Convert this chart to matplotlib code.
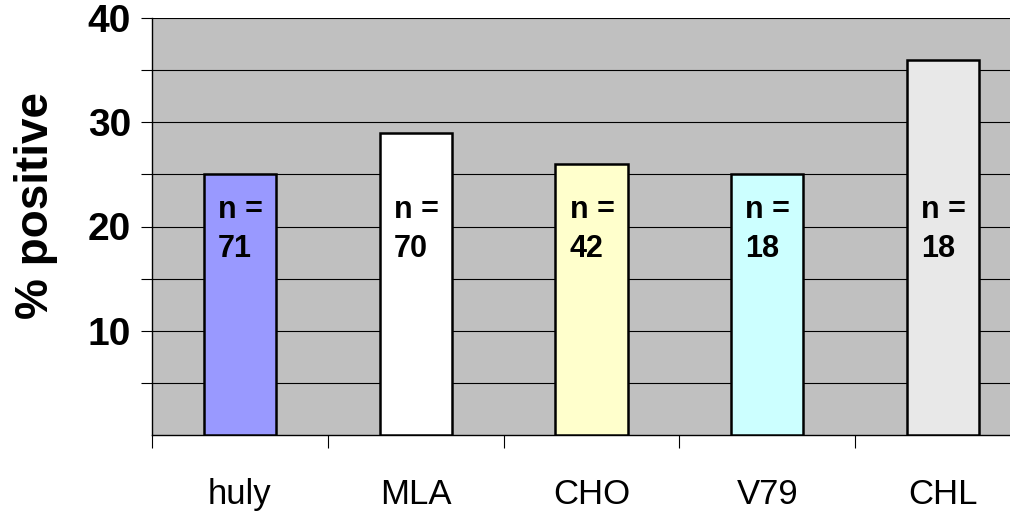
import matplotlib
matplotlib.use("Agg")
import matplotlib.pyplot as plt
import numpy as np

plt.rcParams['font.family'] = ['Liberation Sans', 'DejaVu Sans']

# data
cell_lines = ["huly", "MLA", "CHO", "V79", "CHL"]
pct_positive = [25, 29, 26, 25, 36]
n_counts = [71, 70, 42, 18, 18]
bar_colors = ["#9999FF", "#FFFFFF", "#FFFFCC", "#CCFFFF", "#E8E8E8"]
y_ticks = [10, 20, 30, 40]

fig = plt.figure(figsize=(10.1, 5.12), dpi=100)
# plot area runs a bit past the right edge of the picture, like the original
ax = fig.add_axes([152/1010, 77/512, 879/1010, 417/512])
ax.set_facecolor("#C0C0C0")

x = np.arange(len(cell_lines))
ax.bar(x, pct_positive, width=0.41, color=bar_colors, edgecolor="black", linewidth=1.8, zorder=3)

# n = labels sit at the same height in every bar
for xi, n in zip(x, n_counts):
    ax.text(xi - 0.205 + 0.08, 20.8, "n =", fontsize=22, weight="bold", ha="left", va="baseline", zorder=4)
    ax.text(xi - 0.205 + 0.08, 17.1, str(n), fontsize=22, weight="bold", ha="left", va="baseline", zorder=4)

ax.set_xlim(-0.5, 4.5)
ax.set_ylim(0, 40)

# grid every 5, labels only on the tens
ax.set_yticks(np.arange(5, 41, 5), minor=True)
ax.set_yticks(y_ticks)
ax.set_yticklabels([str(v) for v in y_ticks], fontsize=28, weight="bold")
ax.yaxis.grid(True, which="both", color="black", linewidth=0.8)
ax.set_axisbelow(True)
ax.tick_params(axis="y", which="both", direction="out", length=8, width=0.8, pad=7)

# category names in the middle, tick marks on the boundaries
ax.set_xticks(x)
ax.set_xticklabels(cell_lines, fontsize=25)
ax.set_xticks(np.arange(-0.5, 5, 1), minor=True)
ax.tick_params(axis="x", which="major", length=0, pad=31)
ax.tick_params(axis="x", which="minor", direction="out", length=9, width=0.8)

for side in ["top", "right"]:
    ax.spines[side].set_visible(False)
ax.spines["left"].set_linewidth(1.0)
ax.spines["bottom"].set_linewidth(1.0)

ax.set_ylabel("% positive", fontsize=33, weight="bold")
ax.yaxis.set_label_coords(-0.107, 0.55)

fig.savefig("out.png", dpi=100)
